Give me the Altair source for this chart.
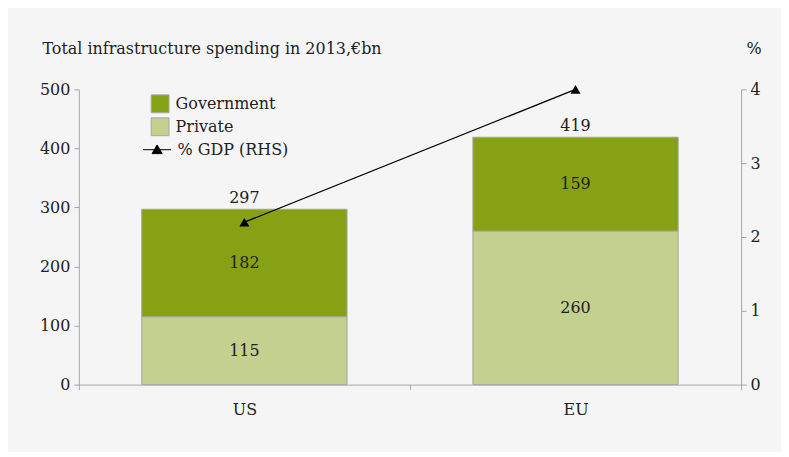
import altair as alt
import pandas as pd

countries = ["US", "EU"]
government = [182, 159]
private = [115, 260]
gdp_share = [2.2, 4.0]

FONT = "DejaVu Serif"
FS = 16
TXT = "#222222"
AX = "#a6a6a6"

rows = []
for c, g, p in zip(countries, government, private):
    rows.append({"country": c, "series": "Private", "value": p, "order": 0,
                 "mid": p / 2})
    rows.append({"country": c, "series": "Government", "value": g, "order": 1,
                 "mid": p + g / 2})
bars_df = pd.DataFrame(rows)
tot_df = pd.DataFrame({"country": countries,
                       "total": [g + p for g, p in zip(government, private)]})
gdp_df = pd.DataFrame({"country": countries, "gdp": gdp_share,
                       "series": ["% GDP (RHS)"] * 2})

xenc = alt.X("country:N", sort=countries,
             scale=alt.Scale(paddingInner=0, paddingOuter=0),
             axis=alt.Axis(title=None, labelAngle=0, tickBand="extent",
                           tickSize=5, labelPadding=12, domainColor=AX,
                           tickColor=AX, labelFont=FONT, labelFontSize=FS,
                           labelColor=TXT))

yleft = alt.Scale(domain=[0, 500])

bars = alt.Chart(bars_df).mark_bar(stroke=AX, strokeWidth=1,
                                   width=alt.RelativeBandSize(0.62)).encode(
    x=xenc,
    y=alt.Y("value:Q", stack="zero", scale=yleft,
            axis=alt.Axis(values=[0, 100, 200, 300, 400, 500], grid=False,
                          tickSize=5, labelPadding=4, domainColor=AX,
                          tickColor=AX, labelFont=FONT, labelFontSize=FS,
                          labelColor=TXT,
                          title="Total infrastructure spending in 2013,€bn",
                          titleAngle=0, titleAlign="left",
                          titleBaseline="alphabetic", titleX=-37, titleY=-36,
                          titleFont=FONT, titleFontSize=FS,
                          titleFontWeight="normal", titleColor=TXT)),
    fill=alt.Fill("series:N",
                  scale=alt.Scale(domain=["Government", "Private"],
                                  range=["#86a214", "#c4d08f"]),
                  legend=alt.Legend(title=None, orient="none", legendX=72,
                                    legendY=5, symbolType="square",
                                    symbolSize=320, symbolStrokeColor=AX,
                                    symbolStrokeWidth=1, rowPadding=0,
                                    labelFont=FONT, labelFontSize=FS,
                                    labelColor=TXT, labelOffset=6)),
    order=alt.Order("order:Q"),
)

seg_text = alt.Chart(bars_df).mark_text(font=FONT, fontSize=FS, color=TXT,
                                        baseline="middle").encode(
    x=alt.X("country:N", sort=countries),
    y=alt.Y("mid:Q", scale=yleft),
    text="value:Q",
)

tot_text = alt.Chart(tot_df).mark_text(font=FONT, fontSize=FS, color=TXT,
                                       baseline="middle", dy=-11).encode(
    x=alt.X("country:N", sort=countries),
    y=alt.Y("total:Q", scale=yleft),
    text="total:Q",
)

left = alt.layer(bars, seg_text, tot_text)

yright = alt.Scale(domain=[0, 4])
ryaxis = alt.Axis(orient="right", values=[0, 1, 2, 3, 4], grid=False,
                  tickSize=5, labelPadding=4, domainColor=AX, tickColor=AX,
                  labelFont=FONT, labelFontSize=FS, labelColor=TXT,
                  title="%", titleAngle=0, titleAlign="left",
                  titleBaseline="alphabetic", titleX=5, titleY=-36,
                  titleFont=FONT, titleFontSize=FS, titleFontWeight="normal",
                  titleColor=TXT)

legend_path = "M-1,0H1M-0.36,0.28L0,-0.34L0.36,0.28Z"

line = alt.Chart(gdp_df).mark_line(color="black", strokeWidth=1.3).encode(
    x=alt.X("country:N", sort=countries),
    y=alt.Y("gdp:Q", scale=yright, axis=ryaxis),
)

pts = alt.Chart(gdp_df).mark_point(filled=True, shape="triangle-up",
                                   size=100, opacity=1).encode(
    x=alt.X("country:N", sort=countries),
    y=alt.Y("gdp:Q", scale=yright, axis=ryaxis),
    color=alt.Color("series:N",
                    scale=alt.Scale(domain=["% GDP (RHS)"], range=["black"]),
                    legend=alt.Legend(title=None, orient="none", legendX=64,
                                      legendY=46, symbolType=legend_path,
                                      symbolSize=784, symbolStrokeColor="black",
                                      symbolStrokeWidth=1, labelFont=FONT,
                                      labelFontSize=FS, labelColor=TXT,
                                      labelOffset=6)),
)

right = alt.layer(line, pts)

chart = alt.layer(left, right).resolve_scale(y="independent").properties(
    width=664, height=296,
    autosize=alt.AutoSizeParams(type="none"),
    padding={"left": 71, "top": 81, "right": 40, "bottom": 67},
    background="#f5f5f5",
).configure_view(stroke=None)

chart.save("out.html", embed_options={"renderer": "svg", "actions": False})
